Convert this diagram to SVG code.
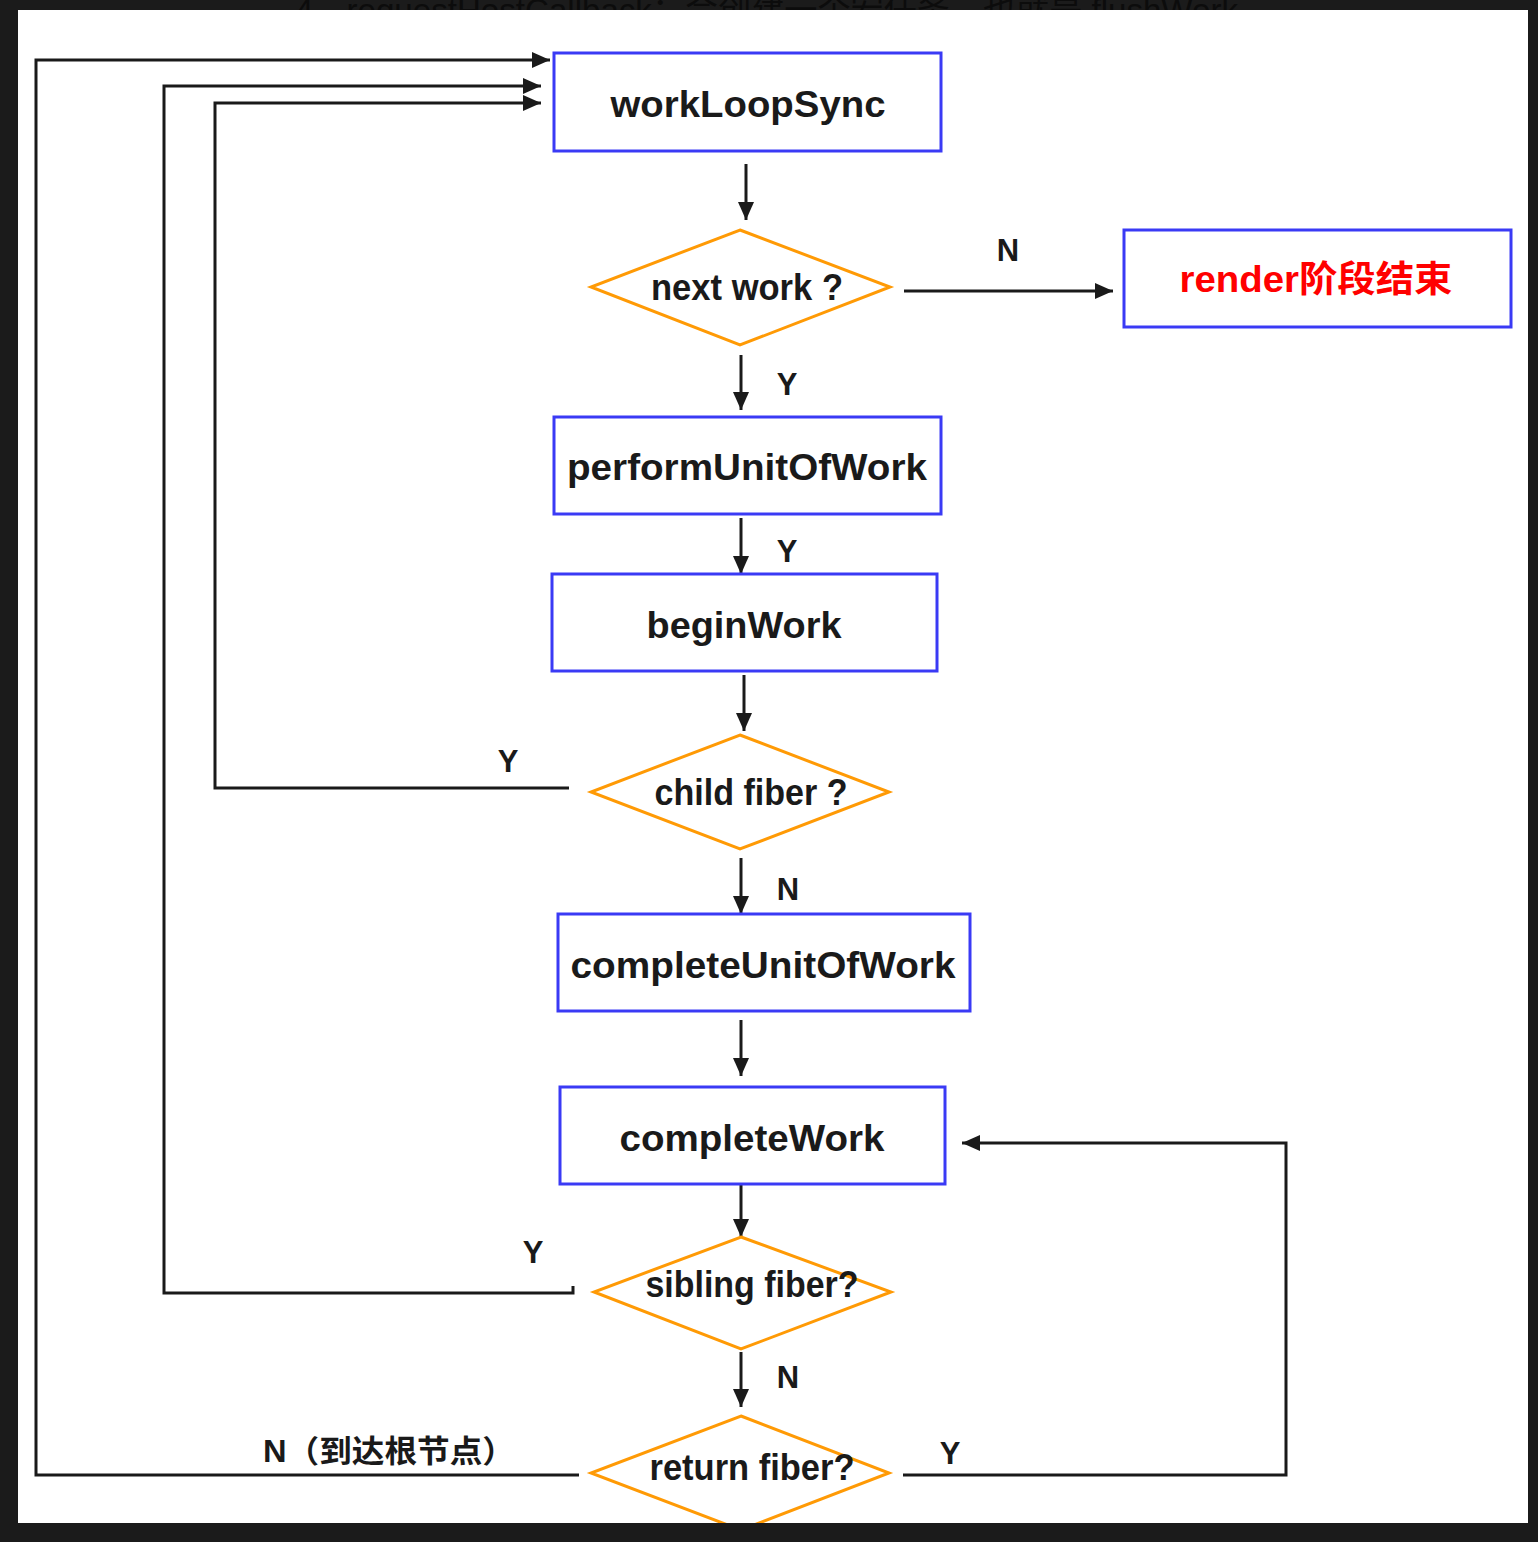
<svg xmlns="http://www.w3.org/2000/svg" width="1538" height="1542" viewBox="0 0 1538 1542">
<defs>
<style>
.box{fill:#fff;stroke:#3a3af5;stroke-width:3}
.dia{fill:#fff;stroke:#ff9a05;stroke-width:3}
.t{font-family:"Liberation Sans","Noto Sans CJK SC",sans-serif;font-weight:bold;font-size:36px;fill:#1a1a1a;text-anchor:middle}
.lbl{font-family:"Liberation Sans","Noto Sans CJK SC",sans-serif;font-weight:bold;font-size:31px;fill:#1a1a1a;text-anchor:middle}
.red{fill:#ff0000}
.c{fill:none;stroke:#1a1a1a;stroke-width:3}
</style>
<marker id="ah" markerUnits="userSpaceOnUse" markerWidth="20" markerHeight="16" refX="18" refY="8" orient="auto">
<path d="M0,0 L18,8 L0,16 z" fill="#1a1a1a"/>
</marker>
</defs>
<rect x="0" y="0" width="1538" height="1542" fill="#1b1b1b"/>
<text x="295" y="22" font-family="Liberation Sans, Noto Sans CJK SC, sans-serif" font-size="34" fill="#0c0c0c" textLength="943" lengthAdjust="spacingAndGlyphs">4、requestHostCallback：会创建一个宏任务，也就是 flushWork</text>
<rect x="18" y="10" width="1510" height="1513" fill="#fff"/>

<g id="connectors">
<line class="c" x1="746" y1="164" x2="746" y2="220" marker-end="url(#ah)"/>
<line class="c" x1="904" y1="291" x2="1113" y2="291" marker-end="url(#ah)"/>
<line class="c" x1="741" y1="355" x2="741" y2="410" marker-end="url(#ah)"/>
<line class="c" x1="741" y1="518" x2="741" y2="574" marker-end="url(#ah)"/>
<line class="c" x1="744" y1="675" x2="744" y2="731" marker-end="url(#ah)"/>
<polyline class="c" points="569,788 215,788 215,103 541,103" marker-end="url(#ah)"/>
<line class="c" x1="741" y1="858" x2="741" y2="914" marker-end="url(#ah)"/>
<line class="c" x1="741" y1="1020" x2="741" y2="1076" marker-end="url(#ah)"/>
<line class="c" x1="741" y1="1182" x2="741" y2="1237" marker-end="url(#ah)"/>
<polyline class="c" points="573,1286 573,1293 164,1293 164,86 541,86" marker-end="url(#ah)"/>
<line class="c" x1="741" y1="1352" x2="741" y2="1407" marker-end="url(#ah)"/>
<polyline class="c" points="579,1475 36,1475 36,60 550,60" marker-end="url(#ah)"/>
<polyline class="c" points="903,1475 1286,1475 1286,1143 962,1143" marker-end="url(#ah)"/>
<text class="lbl" x="1008" y="261">N</text>
<text class="lbl" x="787" y="395">Y</text>
<text class="lbl" x="787" y="562">Y</text>
<text class="lbl" x="508" y="772">Y</text>
<text class="lbl" x="788" y="900">N</text>
<text class="lbl" x="533" y="1263">Y</text>
<text class="lbl" x="788" y="1388">N</text>
<text class="lbl" x="950" y="1464">Y</text>
<text class="lbl" x="389" y="1462" textLength="252" lengthAdjust="spacingAndGlyphs">N（到达根节点）</text>
</g>

<g id="workLoopSync">
<rect class="box" x="554" y="53" width="387" height="98"/>
<text class="t" x="748" y="117" textLength="275" lengthAdjust="spacingAndGlyphs">workLoopSync</text>
</g>
<g id="nextWork">
<polygon class="dia" points="740,230 890,287 740,345 591,287"/>
<text class="t" x="747" y="300" textLength="192" lengthAdjust="spacingAndGlyphs">next work ?</text>
</g>
<g id="renderEnd">
<rect class="box" x="1124" y="230" width="387" height="97"/>
<text class="t red" x="1316" y="292" textLength="273" lengthAdjust="spacingAndGlyphs">render阶段结束</text>
</g>
<g id="performUnitOfWork">
<rect class="box" x="554" y="417" width="387" height="97"/>
<text class="t" x="747" y="480" textLength="360" lengthAdjust="spacingAndGlyphs">performUnitOfWork</text>
</g>
<g id="beginWork">
<rect class="box" x="552" y="574" width="385" height="97"/>
<text class="t" x="744" y="638" textLength="195" lengthAdjust="spacingAndGlyphs">beginWork</text>
</g>
<g id="childFiber">
<polygon class="dia" points="740,735 889,792 740,849 591,792"/>
<text class="t" x="751" y="805" textLength="193" lengthAdjust="spacingAndGlyphs">child fiber ?</text>
</g>
<g id="completeUnitOfWork">
<rect class="box" x="558" y="914" width="412" height="97"/>
<text class="t" x="763" y="978" textLength="385" lengthAdjust="spacingAndGlyphs">completeUnitOfWork</text>
</g>
<g id="completeWork">
<rect class="box" x="560" y="1087" width="385" height="97"/>
<text class="t" x="752" y="1151" textLength="265" lengthAdjust="spacingAndGlyphs">completeWork</text>
</g>
<g id="siblingFiber">
<polygon class="dia" points="741,1237 891,1292 741,1349 594,1292"/>
<text class="t" x="752" y="1297" textLength="213" lengthAdjust="spacingAndGlyphs">sibling fiber?</text>
</g>
<g id="returnFiber">
<polygon class="dia" points="741,1416 889,1473 741,1530 591,1473"/>
<text class="t" x="752" y="1480" textLength="205" lengthAdjust="spacingAndGlyphs">return fiber?</text>
</g>
<rect x="0" y="1523" width="1538" height="19" fill="#1b1b1b"/>
<rect x="1528" y="0" width="10" height="1542" fill="#1b1b1b"/>
</svg>
